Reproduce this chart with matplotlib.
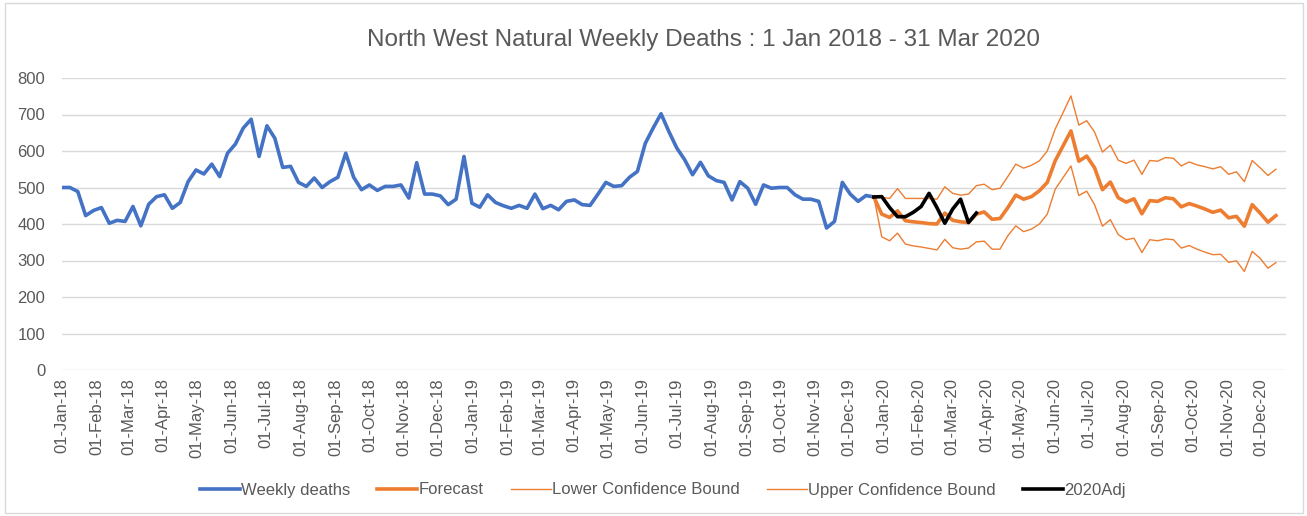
import pandas as pd
import matplotlib
matplotlib.use("Agg")
import matplotlib.pyplot as plt
import matplotlib.dates as mdates
from matplotlib.patches import Rectangle

plt.rcParams["font.family"] = ["Liberation Sans", "DejaVu Sans"]

TITLE = "North West Natural Weekly Deaths : 1 Jan 2018 - 31 Mar 2020"

# weekly deaths 2018-2019 (week starting Mondays)
weekly_dates = pd.date_range("2018-01-01", periods=104, freq="7D")
weekly_deaths = [
    500, 500, 489, 423, 437, 445, 402, 410, 407, 448, 395, 454, 475, 480, 443, 459,
    516, 548, 537, 564, 530, 594, 619, 663, 687, 585, 669, 635, 555, 558, 514, 503,
    526, 500, 516, 528, 594, 528, 494, 507, 492, 503, 503, 507, 471, 568, 482, 482,
    477, 453, 468, 585, 457, 446, 480, 459, 450, 443, 451, 443, 482, 442, 451, 439,
    462, 466, 453, 451, 482, 514, 503, 505, 528, 544, 621, 663, 702, 653, 608, 576,
    535, 569, 532, 519, 514, 466, 516, 498, 454, 507, 498, 500, 500, 480, 468, 468,
    462, 389, 407, 514, 482, 462, 478, 474,
]

# forecast with confidence bounds (from last observed week)
forecast_dates = pd.date_range("2019-12-23", periods=52, freq="7D")
forecast = [
    474, 427, 418, 436, 409, 406, 404, 401, 400, 430, 410, 406, 404, 427, 433, 413,
    415, 445, 479, 468, 475, 491, 514, 573, 614, 655, 572, 586, 554, 494, 515, 472,
    460, 469, 428, 464, 462, 472, 469, 447, 456, 449, 441, 432, 438, 417, 421, 394,
    453, 430, 405, 423,
]
lower_bound = [
    474, 365, 354, 375, 345, 340, 337, 333, 329, 358, 335, 331, 334, 351, 353, 331,
    331, 368, 395, 379, 386, 400, 427, 495, 527, 559, 478, 490, 453, 394, 412, 371,
    357, 361, 322, 357, 354, 359, 357, 334, 341, 331, 323, 316, 317, 295, 299, 270,
    325, 306, 279, 294,
]
upper_bound = [
    474, 473, 470, 497, 470, 470, 470, 470, 468, 502, 484, 479, 482, 505, 509, 494,
    498, 530, 564, 553, 561, 573, 600, 660, 705, 751, 671, 683, 652, 597, 616, 575,
    566, 575, 536, 574, 572, 582, 580, 559, 570, 562, 557, 551, 557, 536, 543, 516,
    574, 554, 533, 550,
]

# 2020 adjusted actuals
adj_dates = pd.date_range("2019-12-23", periods=14, freq="7D")
adj_2020 = [474, 475, 445, 420, 420, 432, 448, 484, 445, 402, 441, 468, 404, 430]

BLUE = "#4472C4"
ORANGE = "#ED7D31"
GRID = "#D9D9D9"
TEXT = "#595959"

fig = plt.figure(figsize=(13.07, 5.16), dpi=100)
ax = fig.add_axes([62 / 1307, 1 - 370 / 516, (1286 - 62) / 1307, 292 / 516])

ax.plot(weekly_dates, weekly_deaths, color=BLUE, lw=2.6, label="Weekly deaths",
        solid_joinstyle="round", zorder=3)
ax.plot(forecast_dates, forecast, color=ORANGE, lw=2.6, label="Forecast",
        solid_joinstyle="round", zorder=3)
ax.plot(forecast_dates, lower_bound, color=ORANGE, lw=1.0,
        label="Lower Confidence Bound", zorder=3)
ax.plot(forecast_dates, upper_bound, color=ORANGE, lw=1.0,
        label="Upper Confidence Bound", zorder=3)
ax.plot(adj_dates, adj_2020, color="black", lw=2.6, label="2020Adj",
        solid_joinstyle="round", zorder=4)

ax.set_ylim(0, 800)
ax.set_yticks(range(0, 801, 100))
ax.set_xlim(pd.Timestamp("2018-01-01"), pd.Timestamp("2020-12-23"))
ax.xaxis.set_major_locator(mdates.MonthLocator())
ax.xaxis.set_major_formatter(mdates.DateFormatter("%d-%b-%y"))
for lbl in ax.get_xticklabels():
    lbl.set_rotation(90)

ax.grid(axis="y", color=GRID, lw=1.0)
ax.set_axisbelow(True)
for s in ax.spines.values():
    s.set_visible(False)
ax.tick_params(axis="both", length=0, colors=TEXT, labelsize=12)
ax.tick_params(axis="x", pad=6)
ax.tick_params(axis="y", pad=12)

fig.text(0.538, 1 - 40 / 516, TITLE, ha="center", va="center", fontsize=17.5,
         color=TEXT)

fig.legend(loc="center", bbox_to_anchor=(0.507, 1 - 490 / 516), ncol=5,
           frameon=False, fontsize=12, handlelength=2.4, handletextpad=0.1,
           columnspacing=1.6, labelcolor=TEXT)

fig.patches.append(Rectangle((5 / 1307, 3 / 516), 1298 / 1307, 510 / 516,
                             transform=fig.transFigure, fill=False,
                             edgecolor=GRID, lw=1.0))

fig.savefig("out.png", dpi=100, facecolor="white")
